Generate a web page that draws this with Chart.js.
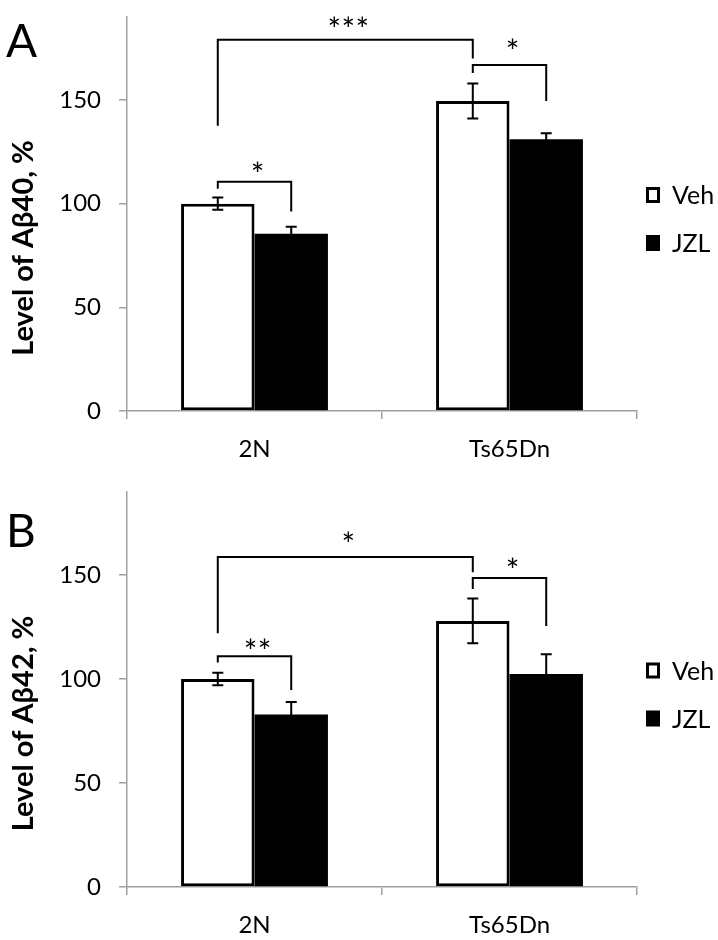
<!DOCTYPE html>
<html>
<head>
<meta charset="utf-8">
<script src="https://cdn.jsdelivr.net/npm/chart.js@4.4.1/dist/chart.umd.min.js"></script>
<style>
  body { margin: 0; background: #fff; }
  .panel { position: absolute; left: 0; width: 718px; height: 470px; }
</style>
</head>
<body>
<div class="panel" style="top:0"><canvas id="chartA" width="718" height="470"></canvas></div>
<div class="panel" style="top:470px"><canvas id="chartB" width="718" height="470"></canvas></div>
<script>
const groups = ['2N', 'Ts65Dn'];
const seriesNames = ['Veh', 'JZL'];
const yTickValues = [0, 50, 100, 150];
const yMax = 190;

const ab40Veh = [100, 149.5];
const ab40Jzl = [85.5, 131];
const ab40VehErr = [3, 8.4];
const ab40JzlErr = [3.3, 3];

const ab42Veh = [100, 128];
const ab42Jzl = [83, 102.5];
const ab42VehErr = [3, 10.8];
const ab42JzlErr = [6, 9.5];

// significance brackets: ends as [group, series], levels in % units
const ab40Brackets = [
  {a: [0, 0], b: [0, 1], top: 110.6, endA: 107.2, endB: 96.2, star: 117.8, text: '*'},
  {a: [0, 0], b: [1, 0], top: 179, endA: 137.5, endB: 170, star: 188, text: '***'},
  {a: [1, 0], b: [1, 1], top: 166.8, endA: 163, endB: 149.5, star: 177, text: '*'}
];
const ab42Brackets = [
  {a: [0, 0], b: [0, 1], top: 111, endA: 108, endB: 94.7, star: 117, text: '**'},
  {a: [0, 0], b: [1, 0], top: 158.7, endA: 122, endB: 151.4, star: 168.7, text: '*'},
  {a: [1, 0], b: [1, 1], top: 148.6, endA: 143.3, endB: 125.5, star: 156, text: '*'}
];

const FONT = 'Lato, "Noto Sans", "DejaVu Sans", sans-serif';
const AXIS = '#a0a0a0';
Chart.defaults.font.family = FONT;
Chart.defaults.color = '#000';

const decorations = {
  id: 'decorations',
  afterDatasetsDraw(chart, args, opts) {
    const ctx = chart.ctx;
    const y = chart.scales.y;
    const area = chart.chartArea;
    const barX = (g, s) => chart.getDatasetMeta(s).data[g].x;

    ctx.save();
    ctx.strokeStyle = '#000';
    ctx.lineWidth = 2;

    // error bars
    opts.errors.forEach((errs, s) => {
      const meta = chart.getDatasetMeta(s);
      errs.forEach((e, g) => {
        const v = chart.data.datasets[s].data[g];
        const x = meta.data[g].x;
        const y1 = y.getPixelForValue(v + e);
        const y2 = y.getPixelForValue(v - e);
        ctx.beginPath();
        ctx.moveTo(x, y1); ctx.lineTo(x, y2);
        ctx.moveTo(x - 5.5, y1); ctx.lineTo(x + 5.5, y1);
        ctx.moveTo(x - 5.5, y2); ctx.lineTo(x + 5.5, y2);
        ctx.stroke();
      });
    });

    // brackets and stars
    ctx.font = '32px ' + FONT;
    ctx.fillStyle = '#000';
    ctx.textAlign = 'center';
    ctx.textBaseline = 'alphabetic';
    const m = ctx.measureText('*');
    const shift = (m.actualBoundingBoxAscent - m.actualBoundingBoxDescent) / 2;
    opts.brackets.forEach(b => {
      const xa = barX(b.a[0], b.a[1]);
      const xb = barX(b.b[0], b.b[1]);
      const yt = y.getPixelForValue(b.top);
      ctx.beginPath();
      ctx.moveTo(xa, y.getPixelForValue(b.endA));
      ctx.lineTo(xa, yt);
      ctx.lineTo(xb, yt);
      ctx.lineTo(xb, y.getPixelForValue(b.endB));
      ctx.stroke();
      const n = b.text.length;
      const cx = (xa + xb) / 2 + 3;
      const cy = y.getPixelForValue(b.star) + shift;
      for (let i = 0; i < n; i++) {
        ctx.fillText('*', cx + (i - (n - 1) / 2) * 14, cy);
      }
    });

    // legend
    const lx = area.right + 9;
    const lc = (area.top + area.bottom) / 2 + 5;
    ctx.font = '25px ' + FONT;
    ctx.textAlign = 'left';
    ctx.textBaseline = 'middle';
    chart.data.datasets.forEach((ds, i) => {
      const cy = lc + (i - 0.5) * 48;
      ctx.fillStyle = ds.backgroundColor;
      ctx.fillRect(lx, cy - 8, 14, 16);
      if (ds.borderWidth) {
        ctx.lineWidth = 3;
        ctx.strokeStyle = ds.borderColor;
        ctx.strokeRect(lx + 1.5, cy - 6.5, 11, 13);
      }
      ctx.fillStyle = '#000';
      ctx.fillText(ds.label, lx + 26, cy + 1);
    });

    // y title
    ctx.save();
    ctx.translate(33, (area.top + area.bottom) / 2 + 34);
    ctx.rotate(-Math.PI / 2);
    ctx.font = 'bold 29px ' + FONT;
    ctx.textAlign = 'center';
    ctx.textBaseline = 'alphabetic';
    ctx.fillText(opts.title, 0, 0);
    ctx.restore();

    // panel letter
    ctx.font = '46px ' + FONT;
    ctx.textAlign = 'left';
    ctx.fillText(opts.letter, 6, opts.letterY);
    ctx.restore();
  }
};

function makeChart(id, letter, letterY, title, veh, jzl, vehErr, jzlErr, brackets, padTop, xHeight) {
  return new Chart(document.getElementById(id), {
    type: 'bar',
    data: {
      labels: groups,
      datasets: [{
        label: seriesNames[0],
        data: veh,
        backgroundColor: '#ffffff',
        borderColor: '#000000',
        borderWidth: 3,
        borderSkipped: false,
        categoryPercentage: 0.576,
        barPercentage: 1
      }, {
        label: seriesNames[1],
        data: jzl,
        backgroundColor: '#000000',
        borderWidth: 0,
        categoryPercentage: 0.576,
        barPercentage: 1
      }]
    },
    options: {
      responsive: false,
      animation: false,
      layout: {padding: {top: padTop, right: 81, left: 0, bottom: 0}},
      scales: {
        x: {
          offset: true,
          grid: {offset: true, drawOnChartArea: false, tickLength: 8, color: AXIS, lineWidth: 1.5},
          border: {color: AXIS, width: 1.5},
          ticks: {font: {size: 24}, padding: 16, color: '#000'},
          afterFit: s => { s.height = xHeight; s.paddingLeft = 0; s.paddingRight = 0; }
        },
        y: {
          min: 0,
          max: yMax,
          bounds: 'data',
          afterBuildTicks: s => { s.ticks = yTickValues.map(v => ({value: v})); },
          grid: {drawOnChartArea: false, tickLength: 8, color: AXIS, lineWidth: 1.5},
          border: {color: AXIS, width: 1.5},
          ticks: {font: {size: 24}, padding: 18, color: '#000'},
          afterFit: s => { s.width = 127; s.paddingTop = 0; s.paddingBottom = 0; }
        }
      },
      plugins: {
        legend: {display: false},
        tooltip: {enabled: false},
        decorations: {
          errors: [vehErr, jzlErr],
          brackets: brackets,
          title: title,
          letter: letter,
          letterY: letterY
        }
      }
    },
    plugins: [decorations]
  });
}

makeChart('chartA', 'A', 42, 'Level of Aβ40, %', ab40Veh, ab40Jzl, ab40VehErr, ab40JzlErr, ab40Brackets, 17, 59);
makeChart('chartB', 'B', 62, 'Level of Aβ42, %', ab42Veh, ab42Jzl, ab42VehErr, ab42JzlErr, ab42Brackets, 22, 53);
</script>
</body>
</html>
